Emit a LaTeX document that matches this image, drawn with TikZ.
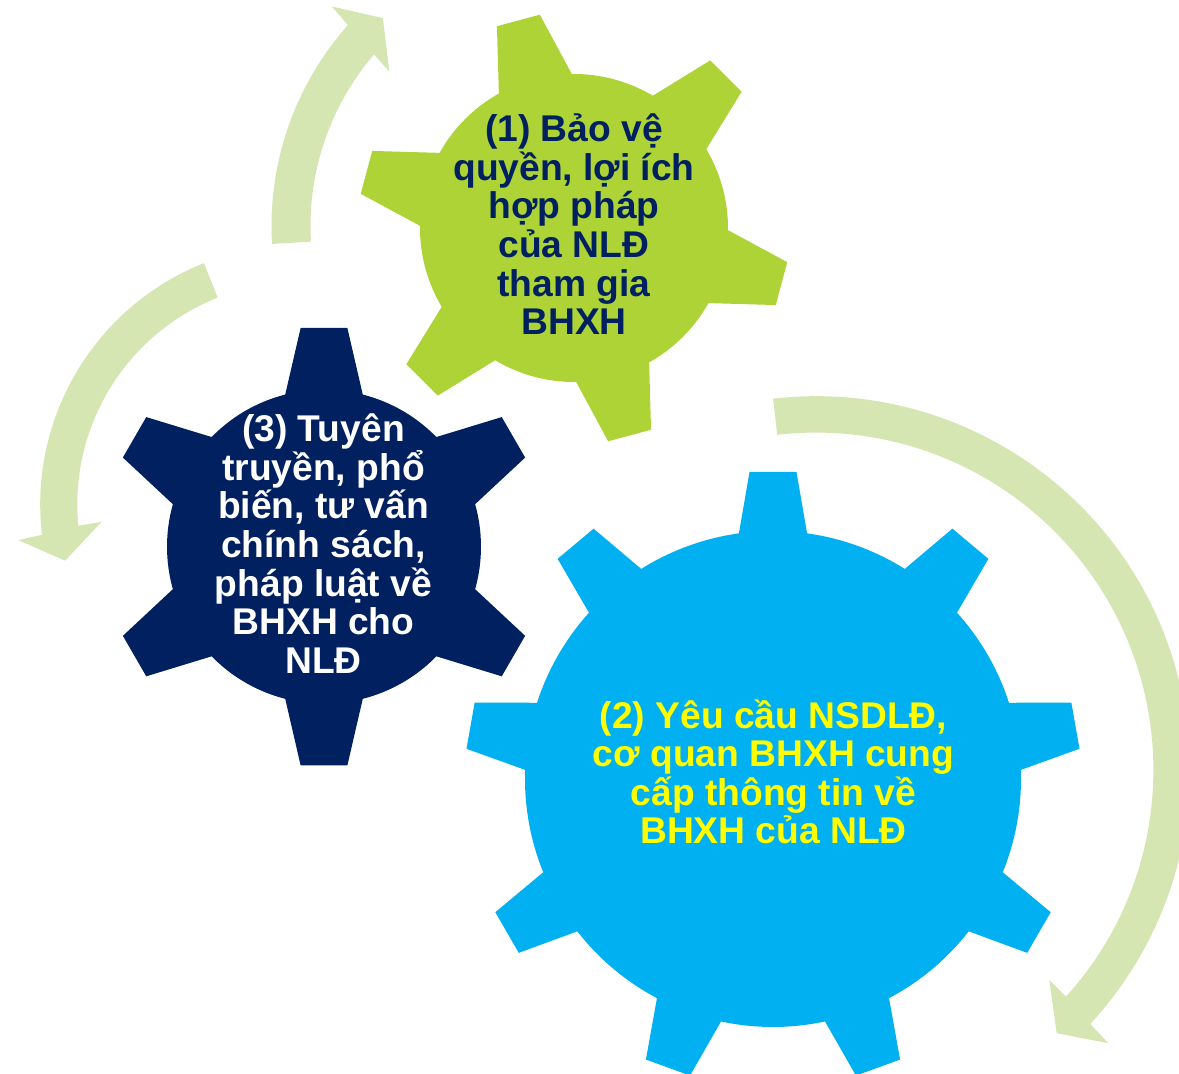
\documentclass[tikz,border=0pt]{standalone}
\usepackage{fontspec}
\setmainfont{Liberation Sans}
\definecolor{gearGreen}{RGB}{173,211,54}
\definecolor{gearNavy}{RGB}{0,32,96}
\definecolor{gearBlue}{RGB}{0,176,240}
\definecolor{arrowGreen}{RGB}{213,230,178}
\definecolor{textYellow}{RGB}{255,255,0}
\newcommand{\gearfont}{\fontsize{37.2}{38.6}\selectfont\bfseries\lineskiplimit-100pt\relax\lineskip0pt\relax}
% #1 style, #2 center, #3 teeth, #4 first angle, #5 step, #6 body r, #7 tip r, #8 root half-angle, #9 tip half-angle
\newcommand{\gearshape}[9]{%
  \fill[#1, shift={(#2)}] ({#4+#5-#8}:#6pt)
    \foreach \i in {1,...,#3}{
      -- ({#4+#5*\i-#8}:#6pt) -- ({#4+#5*\i-#9}:#7pt) -- ({#4+#5*\i+#9}:#7pt) -- ({#4+#5*\i+#8}:#6pt)
      arc[start angle={#4+#5*\i+#8}, end angle={#4+#5*(\i+1)-#8}, radius=#6pt]
    } -- cycle;}
\begin{document}
\begin{tikzpicture}[x=1pt,y=1pt,
  geartext/.style={inner sep=0pt, outer sep=0pt, align=center, anchor=north, font=\gearfont},
  arrowband/.style={fill=arrowGreen}]
\useasboundingbox (0,0) rectangle (1179,1074);
\clip (0,0) rectangle (1179,1074);

% arrows (circular bands with heads)
\fill[arrowband, shift={(574,848)}] (183.4:302.5pt)
  arc[start angle=183.4, end angle=138.4, radius=302.5pt]
  -- (137.8:326.8pt) -- (132.6:282.4pt) -- (140.1:240.7pt) -- (139.4:263.5pt)
  arc[start angle=139.4, end angle=183.4, radius=263.5pt] -- cycle;
\fill[arrowband, shift={(300,569.5)}] (111.7:259.8pt)
  arc[start angle=111.7, end angle=186.7, radius=259.8pt]
  -- (187.2:283.9pt) -- (193.45:241.6pt) -- (184.96:199pt) -- (185.5:222.7pt)
  arc[start angle=185.5, end angle=111.7, radius=222.7pt] -- cycle;
\fill[arrowband, shift={(816,304)}] (96.6:373.8pt)
  arc[start angle=96.6, end angle=-42.8, radius=373.8pt]
  -- (-43.07:400.2pt) -- (-47.56:356.7pt) -- (-41.99:313.9pt) -- (-42.2:337.4pt)
  arc[start angle=-42.2, end angle=96.6, radius=337.4pt] -- cycle;

% gears
\gearshape{gearGreen}{574,846}{6}{45}{60}{154}{216}{14.2}{5.9}
\gearshape{gearBlue}{773,295}{9}{50}{40}{248}{308}{7.9}{4.37}
\gearshape{gearNavy}{324,527.3}{6}{30}{60}{157}{220}{14.3}{6.1}

% texts
\node[geartext, text=gearNavy] (t1) at (574,972.3)
  {\rule{0pt}{40pt}(1) Bảo vệ\\quyền, lợi ích\\hợp pháp\\của NLĐ\\tham gia\\BHXH};
\node[geartext, text=textYellow] (t2) at (773.5,385.8)
  {\rule{0pt}{40pt}(2) Yêu cầu NSDLĐ,\\cơ quan BHXH cung\\cấp thông tin về\\BHXH của NLĐ};
\node[geartext, text=white] (t3) at (323.5,672.3)
  {\rule{0pt}{40pt}(3) Tuyên\\truyền, phổ\\biến, tư vấn\\chính sách,\\pháp luật về\\BHXH cho\\NLĐ};
\end{tikzpicture}
\end{document}
